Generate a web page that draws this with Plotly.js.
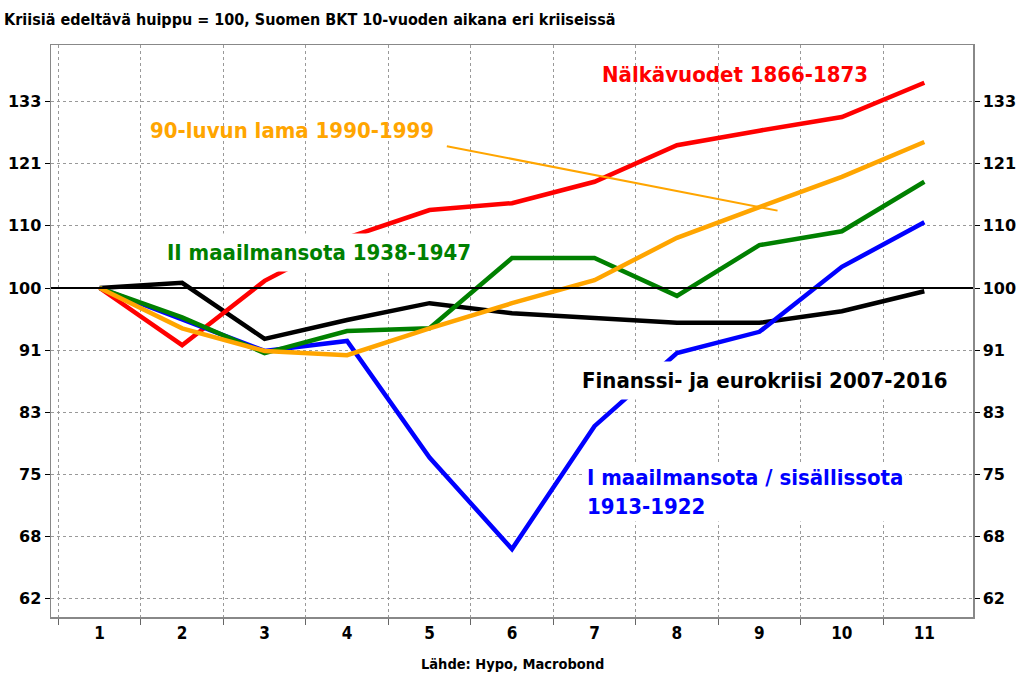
<!DOCTYPE html>
<html>
<head>
<meta charset="utf-8">
<script src="https://cdn.plot.ly/plotly-3.0.1.min.js"></script>
<style>html,body{margin:0;padding:0;background:#fff;}#chart{width:1024px;height:686px;}</style>
</head>
<body>
<div id="chart"></div>
<script>
// Years since pre-crisis peak (1..11)
const periods = [1, 2, 3, 4, 5, 6, 7, 8, 9, 10, 11];
const periodLabels = ["1", "2", "3", "4", "5", "6", "7", "8", "9", "10", "11"];

// GDP index, pre-crisis peak = 100
const famine1866 = [100, 91.6, 101.1, 108.0, 112.7, 113.9, 117.7, 124.5, 127.3, 130.0, 137.0];
const ww1_1913 = [100, 95.2, 90.8, 92.2, 77.1, 67.0, 80.9, 90.5, 93.5, 103.3, 110.6];
const ww2_1938 = [100, 95.6, 90.5, 93.6, 94.0, 104.7, 104.7, 98.8, 106.8, 109.1, 117.7];
const depression1990 = [100, 94.0, 90.8, 90.2, 94.0, 97.7, 101.2, 108.0, 113.2, 118.6, 125.1];
const finance2007 = [100, 100.8, 92.5, 95.2, 97.7, 96.2, 95.5, 94.8, 94.8, 96.5, 99.5];

// Y ticks: 100 * 1.1^k, labelled rounded
const yTickVals = [62.09, 68.30, 75.13, 82.64, 90.91, 100, 110, 121, 133.1];
const yTickText = ["62", "68", "75", "83", "91", "100", "110", "121", "133"];

// Pointer from "90-luvun lama" label to its line
const pointerX = [5.21, 9.22];
const pointerY = [124.3, 112.6];

// Reference level
const refX = [0, 12];
const refY = [100, 100];

const font = "Liberation Sans Narrow, DejaVu Sans Condensed, Open Sans, sans-serif";
const tickFont = "DejaVu Sans, Verdana, sans-serif";

function line(y, color, name) {
  return {x: periods, y: y, type: "scatter", mode: "lines", name: name,
          line: {color: color, width: 4.5}, hoverinfo: "skip"};
}

const traces = [
  {x: refX, y: refY, type: "scatter", mode: "lines", yaxis: "y2",
   line: {color: "#000", width: 2}, hoverinfo: "skip", showlegend: false},
  line(finance2007, "#000000", "Finanssi- ja eurokriisi 2007-2016"),
  line(famine1866, "#FF0000", "Nälkävuodet 1866-1873"),
  line(ww1_1913, "#0000FF", "I maailmansota / sisällissota 1913-1922"),
  line(ww2_1938, "#008000", "II maailmansota 1938-1947"),
  line(depression1990, "#FFA500", "90-luvun lama 1990-1999"),
  {x: pointerX, y: pointerY, type: "scatter", mode: "lines",
   line: {color: "#FFA500", width: 2}, hoverinfo: "skip", showlegend: false}
];

const yRange = [1.7808, 2.1619];
const yAxisBase = {
  type: "log", range: yRange, tickmode: "array", tickvals: yTickVals, ticktext: yTickText,
  showgrid: true, gridcolor: "#999", griddash: "3px,3px", gridwidth: 1,
  ticks: "outside", ticklen: 5, tickcolor: "#000", tickwidth: 1,
  tickfont: {family: tickFont, size: 16, color: "#000", weight: "bold"},
  showline: true, linecolor: "#888", linewidth: 1.5, mirror: true,
  zeroline: false, fixedrange: true
};

const layout = {
  width: 1024, height: 686,
  margin: {l: 51, r: 51, t: 45, b: 69},
  paper_bgcolor: "#fff", plot_bgcolor: "#fff",
  showlegend: false,
  title: {text: "<b>Kriisiä edeltävä huippu = 100, Suomen BKT 10-vuoden aikana eri kriiseissä</b>",
          x: 0.004, xanchor: "left", y: 0.972, yanchor: "middle",
          font: {family: font, size: 16, color: "#000"}},
  xaxis: {
    range: [0.41, 11.59], tickmode: "array", tickvals: periods, ticktext: periodLabels,
    ticks: "", showgrid: false, zeroline: false,
    tickfont: {family: font, size: 17, color: "#000", weight: "bold"},
    showline: true, linecolor: "#888", linewidth: 1.5, mirror: true,
    minor: {tickmode: "array", tickvals: [0.5,1.5,2.5,3.5,4.5,5.5,6.5,7.5,8.5,9.5,10.5],
            showgrid: true, gridcolor: "#999", griddash: "3px,3px", gridwidth: 1,
            ticks: "outside", ticklen: 6, tickcolor: "#666", tickwidth: 1},
    fixedrange: true
  },
  yaxis: Object.assign({}, yAxisBase, {side: "left"}),
  yaxis2: Object.assign({}, yAxisBase, {side: "right", overlaying: "y", showgrid: false}),
  annotations: [
    {text: "<b>Nälkävuodet 1866-1873</b>", xref: "paper", yref: "paper", x: 0.5954, y: 0.9476,
     xanchor: "left", yanchor: "middle", showarrow: false,
     font: {family: font, size: 22, color: "#FF0000"}},
    {text: "<b>90-luvun lama 1990-1999</b>", xref: "paper", yref: "paper", x: 0.1053, y: 0.8497,
     xanchor: "left", yanchor: "middle", showarrow: false,
     font: {family: font, size: 22, color: "#FFA500"}},
    {text: "<b>II maailmansota 1938-1947</b>", xref: "paper", yref: "paper", x: 0.1183, y: 0.6364,
     xanchor: "left", yanchor: "middle", showarrow: false, bgcolor: "#fff", borderpad: 6,
     font: {family: font, size: 22, color: "#008000"}},
    {text: "<b>Finanssi- ja eurokriisi 2007-2016</b>", xref: "paper", yref: "paper", x: 0.5682, y: 0.4126,
     xanchor: "left", yanchor: "middle", showarrow: false, bgcolor: "#fff", borderpad: 6,
     font: {family: font, size: 22, color: "#000"}},
    {text: "<b>I maailmansota / sisällissota<br>1913-1922</b>", xref: "paper", yref: "paper", x: 0.5781, y: 0.2185,
     xanchor: "left", yanchor: "middle", align: "left", showarrow: false, bgcolor: "#fff", borderpad: 2,
     font: {family: font, size: 22, color: "#0000FF"}},
    {text: "<b>Lähde: Hypo, Macrobond</b>", xref: "paper", yref: "paper", x: 0.5, y: -0.08,
     xanchor: "center", yanchor: "middle", yshift: -1, showarrow: false,
     font: {family: font, size: 14.5, color: "#000"}}
  ]
};

Plotly.newPlot("chart", traces, layout, {displayModeBar: false, staticPlot: true});
</script>
</body>
</html>
